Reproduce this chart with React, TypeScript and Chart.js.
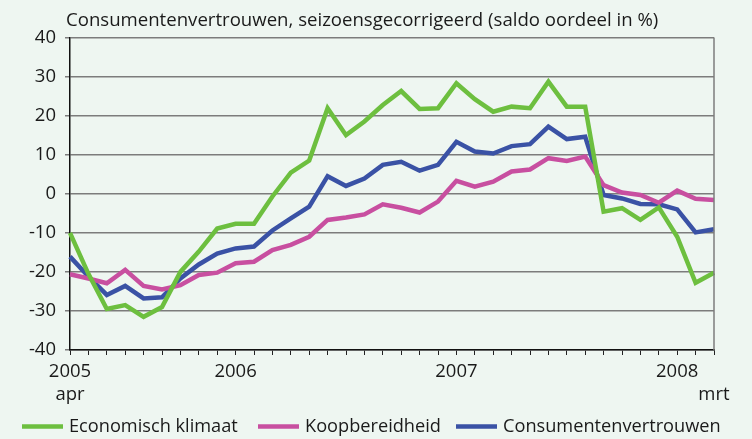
import React, { useEffect, useRef } from 'react';
import { Chart, registerables } from 'chart.js';

Chart.register(...registerables);

const months = [
  'apr 2005', 'mei 2005', 'jun 2005', 'jul 2005', 'aug 2005', 'sep 2005', 'okt 2005', 'nov 2005', 'dec 2005',
  'jan 2006', 'feb 2006', 'mrt 2006', 'apr 2006', 'mei 2006', 'jun 2006', 'jul 2006', 'aug 2006', 'sep 2006',
  'okt 2006', 'nov 2006', 'dec 2006', 'jan 2007', 'feb 2007', 'mrt 2007', 'apr 2007', 'mei 2007', 'jun 2007',
  'jul 2007', 'aug 2007', 'sep 2007', 'okt 2007', 'nov 2007', 'dec 2007', 'jan 2008', 'feb 2008', 'mrt 2008',
];

// x tick labels: index in months -> label lines
const tickIndices = [0, 9, 21, 33, 35];
const tickTexts = [['2005', 'apr'], ['2006'], ['2007'], ['2008'], ['', 'mrt']];

const economischKlimaat = [
  -10, -20.5, -29.5, -28.5, -31.5, -29, -20, -14.8, -8.9, -7.7, -7.7, -0.7,
  5.4, 8.5, 21.9, 15, 18.5, 22.7, 26.3, 21.7, 21.9, 28.3, 24.2, 21,
  22.3, 21.9, 28.7, 22.3, 22.3, -4.6, -3.7, -6.7, -3.5, -11, -22.8, -20.2,
];
const koopbereidheid = [
  -20.6, -21.7, -22.9, -19.5, -23.6, -24.5, -23.4, -20.8, -20.2, -17.8, -17.4, -14.4,
  -13.1, -11, -6.7, -6.1, -5.3, -2.7, -3.6, -4.8, -2.0, 3.3, 1.8, 3.1,
  5.7, 6.2, 9.1, 8.4, 9.5, 2.2, 0.3, -0.3, -2.3, 0.8, -1.3, -1.6,
];
const consumentenvertrouwen = [
  -16.1, -21.2, -25.9, -23.6, -26.8, -26.5, -21.7, -18.1, -15.3, -14, -13.5, -9.4,
  -6.3, -3.3, 4.5, 2.0, 3.9, 7.4, 8.2, 5.9, 7.4, 13.3, 10.8, 10.3,
  12.2, 12.7, 17.2, 14, 14.6, -0.3, -1.2, -2.6, -2.7, -4, -9.9, -9.1,
];

const seriesNames = ['Economisch klimaat', 'Koopbereidheid', 'Consumentenvertrouwen'];
const seriesColors = ['#6dbf3f', '#c84fa0', '#3a52a5'];
const title = 'Consumentenvertrouwen, seizoensgecorrigeerd (saldo oordeel in %)';

const FONT = '"Open Sans", "Noto Sans", sans-serif';
const TEXT = '#1a1a1a';
const BG = '#eef6f1';

const decorPlugin = {
  id: 'decor',
  afterDraw(chart: any) {
    const { ctx, chartArea } = chart;
    ctx.save();
    // right border
    ctx.strokeStyle = '#7c7c7c';
    ctx.lineWidth = 1.5;
    ctx.beginPath();
    ctx.moveTo(chartArea.right, chartArea.top);
    ctx.lineTo(chartArea.right, chartArea.bottom);
    ctx.stroke();
    // title
    ctx.fillStyle = TEXT;
    ctx.font = `18.6px ${FONT}`;
    ctx.textBaseline = 'middle';
    ctx.textAlign = 'left';
    ctx.fillText(title, 66, 21);
    // legend
    const starts = [22, 258, 456];
    chart.data.datasets.forEach((ds: any, i: number) => {
      const x = starts[i];
      const y = 426.5;
      ctx.strokeStyle = ds.borderColor;
      ctx.lineWidth = 4.5;
      ctx.beginPath();
      ctx.moveTo(x, y);
      ctx.lineTo(x + 41, y);
      ctx.stroke();
      ctx.fillStyle = TEXT;
      ctx.font = `18.2px ${FONT}`;
      ctx.fillText(ds.label, x + 47, y);
    });
    ctx.restore();
  },
};

export default function App() {
  const ref = useRef<HTMLCanvasElement | null>(null);
  useEffect(() => {
    document.body.style.margin = '0';
    document.body.style.background = BG;
    const series = [economischKlimaat, koopbereidheid, consumentenvertrouwen];
    const chart = new Chart(ref.current as HTMLCanvasElement, {
      type: 'line',
      data: {
        labels: months,
        datasets: series.map((d, i) => ({
          label: seriesNames[i],
          data: d,
          borderColor: seriesColors[i],
          backgroundColor: seriesColors[i],
          borderWidth: 4.5,
          pointRadius: 0,
          tension: 0,
          fill: false,
          borderJoinStyle: 'miter' as const,
        })),
      },
      options: {
        animation: false,
        responsive: false,
        maintainAspectRatio: false,
        layout: { padding: { top: 37.5, left: 0, right: 38, bottom: 29 } },
        plugins: {
          legend: { display: false },
          title: { display: false },
          tooltip: { enabled: false },
        },
        scales: {
          x: {
            type: 'category',
            offset: false,
            afterFit: (s: any) => { s.height = 60; },
            grid: {
              display: true,
              drawOnChartArea: false,
              drawTicks: true,
              tickLength: 5,
              tickColor: '#222',
              lineWidth: 1,
            },
            border: { display: true, color: '#111', width: 1.5 },
            ticks: {
              autoSkip: false,
              maxRotation: 0,
              minRotation: 0,
              padding: 6,
              color: TEXT,
              font: { family: FONT, size: 18.5, lineHeight: 1.2 },
              callback: (_v: any, idx: number) => {
                const k = tickIndices.indexOf(idx);
                return k >= 0 ? tickTexts[k] : '';
              },
            },
          },
          y: {
            min: -40,
            max: 40,
            afterFit: (s: any) => { s.width = 70; },
            grid: {
              color: '#7c7c7c',
              lineWidth: 1.5,
              tickLength: 5,
              tickColor: '#7c7c7c',
            },
            border: { display: true, color: '#111', width: 1.5 },
            ticks: {
              stepSize: 10,
              padding: 9,
              color: TEXT,
              font: { family: FONT, size: 18.5 },
            },
          },
        },
      },
      plugins: [decorPlugin],
    });
    return () => chart.destroy();
  }, []);
  return (
    <div style={{ width: 752, height: 439, background: BG }}>
      <canvas ref={ref} width={752} height={439} style={{ display: 'block' }} />
    </div>
  );
}
